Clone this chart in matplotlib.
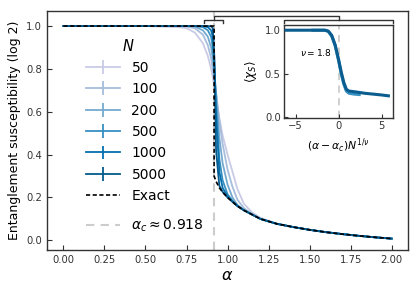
import matplotlib
matplotlib.use("Agg")
import matplotlib.pyplot as plt
from matplotlib.lines import Line2D
import numpy as np

# ---------------- data ----------------
alpha_c = 0.918
N_values = [50, 100, 200, 500, 1000, 5000]
N_colors = ["#c9cbe6", "#a6bddb", "#74a9cf", "#3690c0", "#0570b0", "#045a8d"]

alpha_grid = [0.0, 0.5, 0.7, 0.75, 0.8, 0.85, 0.88, 0.9, 0.91, 0.92, 0.93, 0.95,
              0.97, 1.0, 1.03, 1.06, 1.1, 1.15, 1.2, 1.3, 1.4, 1.5, 1.6, 1.7,
              1.8, 1.9, 2.0]

chi_N50 = [1.0, 1.0, 0.995, 0.99, 0.97, 0.92, 0.86, 0.80, 0.76, 0.72, 0.67, 0.57,
           0.49, 0.40, 0.32, 0.24, 0.17, 0.13, 0.105, 0.078, 0.062, 0.049, 0.038,
           0.029, 0.021, 0.014, 0.008]
chi_N100 = [1.0, 1.0, 1.0, 0.998, 0.99, 0.96, 0.91, 0.85, 0.80, 0.75, 0.69, 0.56,
            0.45, 0.33, 0.25, 0.19, 0.15, 0.122, 0.1, 0.077, 0.062, 0.049, 0.038,
            0.029, 0.021, 0.014, 0.008]
chi_N200 = [1.0, 1.0, 1.0, 1.0, 0.998, 0.98, 0.95, 0.90, 0.85, 0.78, 0.69, 0.48,
            0.36, 0.26, 0.20, 0.165, 0.142, 0.12, 0.1, 0.077, 0.062, 0.049, 0.038,
            0.029, 0.021, 0.014, 0.008]
chi_N500 = [1.0, 1.0, 1.0, 1.0, 1.0, 0.995, 0.98, 0.95, 0.90, 0.80, 0.64, 0.38,
            0.28, 0.215, 0.185, 0.162, 0.14, 0.12, 0.1, 0.077, 0.062, 0.049, 0.038,
            0.029, 0.021, 0.014, 0.008]
chi_N1000 = [1.0, 1.0, 1.0, 1.0, 1.0, 1.0, 0.995, 0.98, 0.95, 0.82, 0.58, 0.32,
             0.245, 0.205, 0.18, 0.16, 0.14, 0.12, 0.1, 0.077, 0.062, 0.049, 0.038,
             0.029, 0.021, 0.014, 0.008]
chi_N5000 = [1.0, 1.0, 1.0, 1.0, 1.0, 1.0, 1.0, 0.999, 0.99, 0.85, 0.42, 0.255,
             0.226, 0.2, 0.18, 0.16, 0.14, 0.12, 0.1, 0.077, 0.062, 0.049, 0.038,
             0.029, 0.021, 0.014, 0.008]
chi_N = [chi_N50, chi_N100, chi_N200, chi_N500, chi_N1000, chi_N5000]

alpha_exact = [0.0, 0.918, 0.918, 0.93, 0.95, 0.97, 1.0, 1.03, 1.06, 1.1, 1.15,
               1.2, 1.3, 1.4, 1.5, 1.6, 1.7, 1.8, 1.9, 2.0]
chi_exact = [1.0, 1.0, 0.30, 0.275, 0.245, 0.225, 0.2, 0.18, 0.16, 0.14, 0.12,
             0.1, 0.077, 0.062, 0.049, 0.038, 0.029, 0.021, 0.014, 0.008]

# scaling collapse (inset)
x_coll_a = [-6.1, -3.0, -1.6, -1.2, -0.8, -0.4, 0.0, 0.3, 0.6, 0.9, 1.2, 2.0,
            3.0, 4.0, 5.0, 5.8]
y_coll_a = [1.0, 1.0, 1.0, 0.99, 0.94, 0.83, 0.66, 0.52, 0.40, 0.32, 0.30, 0.29,
            0.275, 0.265, 0.255, 0.245]
x_coll_b = [-3.0, -1.6, -1.2, -0.8, -0.4, 0.0, 0.3, 0.6, 0.9, 1.2, 1.8, 2.4]
y_coll_b = [1.0, 1.0, 0.985, 0.93, 0.82, 0.65, 0.50, 0.38, 0.30, 0.275, 0.265, 0.26]
nu = 1.8

# ---------------- plot ----------------
plt.rcParams['font.family'] = ['DejaVu Sans']
fig = plt.figure(figsize=(4.16, 2.91), dpi=100)
ax = fig.add_axes([0.113, 0.141, 0.868, 0.821])

spine_col = "#333333"
for s in ax.spines.values():
    s.set_color(spine_col)
    s.set_linewidth(1.0)

vline = ax.axvline(alpha_c, color="#cccccc", lw=1.5, ls=(0, (4, 3)), zorder=1)

containers = []
for N, col, vals in zip(N_values, N_colors, chi_N):
    c = ax.errorbar(alpha_grid, vals, yerr=np.zeros(len(vals)), color=col, lw=1.3,
                    elinewidth=1.3, zorder=2)
    containers.append(c)

exact_line, = ax.plot(alpha_exact, chi_exact, color="black", lw=1.2,
                      ls=(0, (2.5, 1.5)), zorder=4)

ax.set_xlim(-0.1, 2.1)
ax.set_ylim(-0.045, 1.07)
ax.set_xticks([0.0, 0.25, 0.5, 0.75, 1.0, 1.25, 1.5, 1.75, 2.0])
ax.set_xticklabels(["0.00", "0.25", "0.50", "0.75", "1.00", "1.25", "1.50",
                    "1.75", "2.00"])
ax.set_yticks([0.0, 0.2, 0.4, 0.6, 0.8, 1.0])
ax.tick_params(direction="in", length=3.5, labelsize=7.2, colors=spine_col,
               labelcolor="#333333")
ax.set_xlabel(r"$\alpha$", fontsize=11.5, labelpad=2)
ax.set_ylabel("Entanglement susceptibility (log 2)", fontsize=9, labelpad=4)

leg_handles = containers + [exact_line]
leg_labels = [str(N) for N in N_values] + ["Exact"]
leg = ax.legend(leg_handles, leg_labels,
                title=r"$N$", frameon=False, fontsize=10, title_fontsize=10.5,
                loc="upper left", bbox_to_anchor=(0.08, 0.93),
                handlelength=2.5, labelspacing=0.53, borderpad=0.2)
ax.add_artist(leg)
leg2 = ax.legend([vline], [r"$\alpha_c \approx 0.918$"], frameon=False,
                 fontsize=10, loc="center left", bbox_to_anchor=(0.08, 0.10),
                 handlelength=2.5, borderpad=0.2)

# inset
axin = fig.add_axes([0.683, 0.5945, 0.262, 0.3196])
for s in axin.spines.values():
    s.set_color(spine_col)
    s.set_linewidth(1.0)
axin.axvline(0, color="#cccccc", lw=1.3, ls=(0, (4, 3)), zorder=1)
axin.plot(x_coll_b, y_coll_b, color="#3690c0", lw=2.2, zorder=2)
axin.plot(x_coll_a, y_coll_a, color="#0b5d8f", lw=2.2, zorder=3)
axin.set_xlim(-6.35, 6.35)
axin.set_ylim(-0.01, 1.06)
axin.set_xticks([-5, 0, 5])
axin.set_yticks([0.0, 0.5, 1.0])
axin.tick_params(direction="in", length=3, labelsize=7.2, colors=spine_col,
                 labelcolor="#333333", pad=2.5)
axin.set_xlabel(r"$(\alpha - \alpha_c)N^{1/\nu}$", fontsize=7.8, labelpad=4)
axin.set_ylabel(r"$\langle \chi_S \rangle$", fontsize=8.5, labelpad=4)
axin.text(-4.5, 0.74, r"$\nu = %.1f$" % nu, fontsize=6.5, ha="left", va="center")

# bracket connectors (figure pixel coords)
W, H = 416.0, 291.0
def fx(px):
    return px / W
def fy(py):
    return 1 - py / H
segs = [
    ([204, 204, 223, 223], [23, 20, 20, 23]),
    ([213.5, 213.5, 338.5, 338.5], [20, 16, 16, 20]),
    ([284, 284, 393, 393], [23, 20, 20, 23]),
]
for xs, ys in segs:
    fig.add_artist(Line2D([fx(v) for v in xs], [fy(v) for v in ys],
                          transform=fig.transFigure, color="#333333", lw=1.0))

fig.savefig("out.png", dpi=100)
